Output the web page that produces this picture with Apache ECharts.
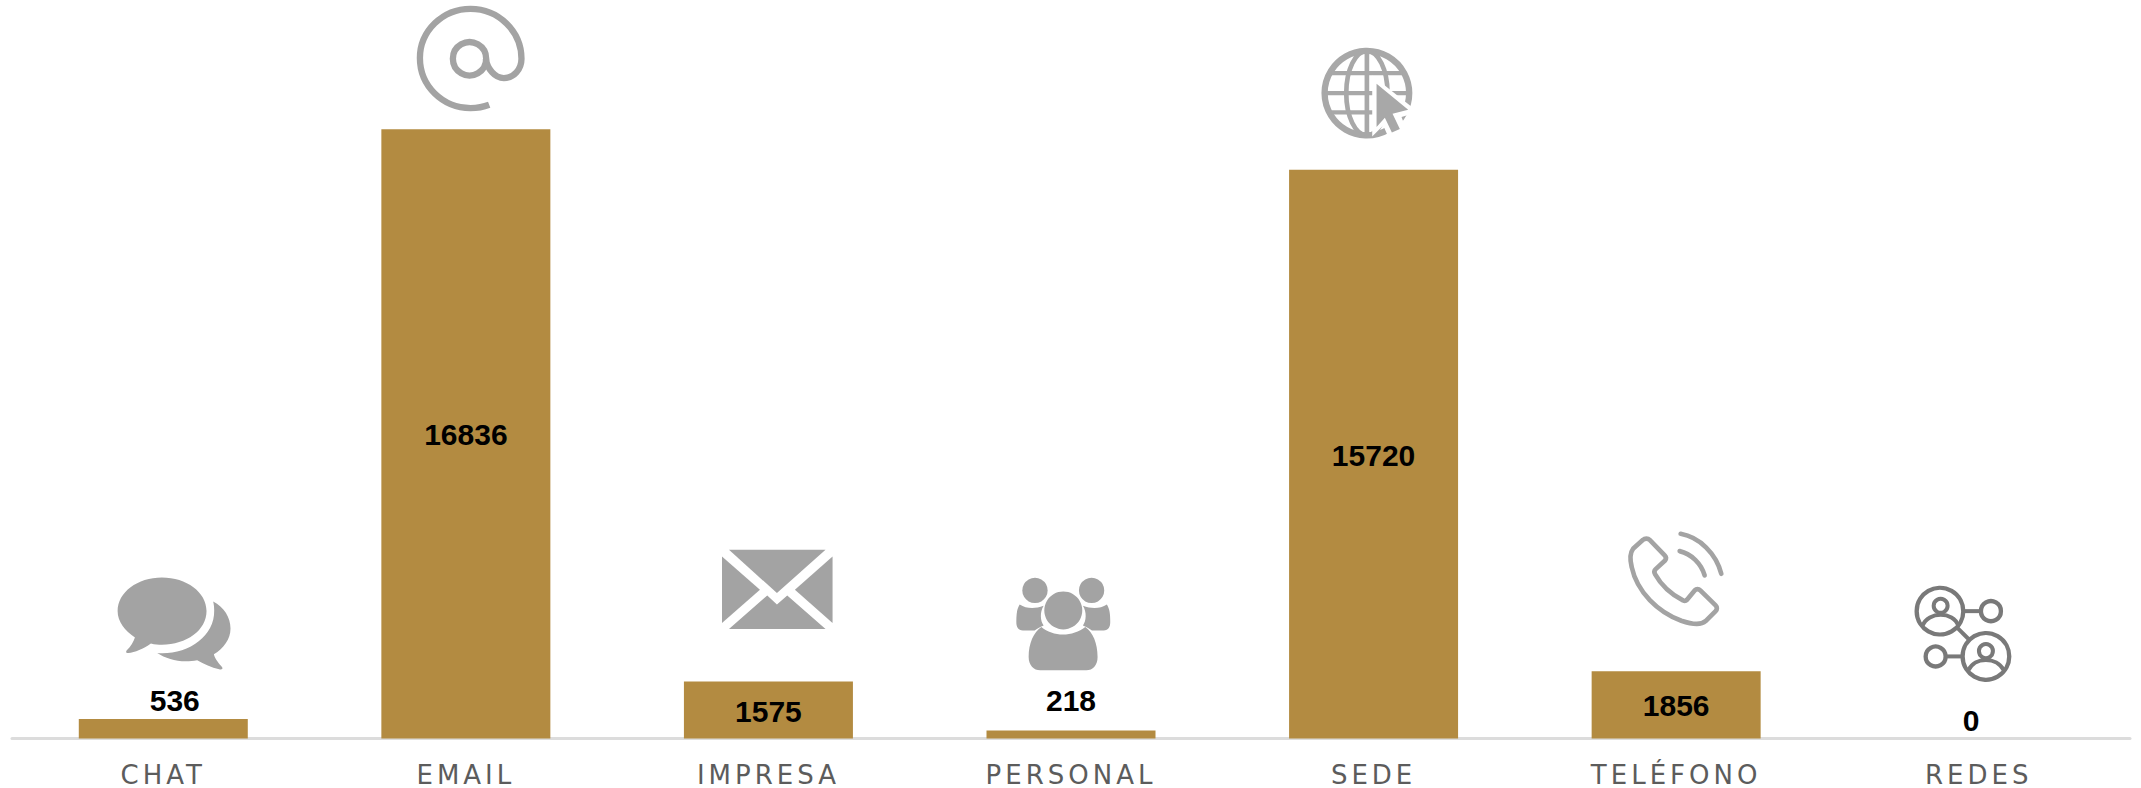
<!DOCTYPE html>
<html lang="es">
<head>
<meta charset="utf-8">
<title>Canales</title>
<style>
  html, body { margin: 0; padding: 0; background: #ffffff; }
  #chart { width: 2141px; height: 788px; }
  /* Tracked-out category names */
  #chart text[fill="#5c5c5c"], #chart text[style*="#5c5c5c"] { letter-spacing: 4px; }
</style>
<script src="https://cdn.jsdelivr.net/npm/echarts@6/dist/echarts.min.js"></script>
</head>
<body>
<div id="chart"></div>
<script>
const categories = ['CHAT', 'EMAIL', 'IMPRESA', 'PERSONAL', 'SEDE', 'TELÉFONO', 'REDES'];
const counts = [536, 16836, 1575, 218, 15720, 1856, 0];

const GOLD = '#b38b41';
const ICON_GREY = '#a3a3a3';
const NET_GREY = '#797979';

// Short bars carry their value above the bar, shifted sideways in places.
const outsideLabels = {
  CHAT: [11.5, 0],
  PERSONAL: [0, -11],
  REDES: [-7.5, 1]
};

const fill = (d, color) => ({ type: 'path', shape: { pathData: d }, style: { fill: color } });
const line = (d, color, w, cap) => ({
  type: 'path',
  shape: { pathData: d },
  style: { fill: 'none', stroke: color, lineWidth: w, lineCap: cap || 'butt', lineJoin: 'round' }
});
const ring = (cx, cy, r, color, w) => ({
  type: 'circle',
  shape: { cx, cy, r },
  style: { fill: 'none', stroke: color, lineWidth: w }
});
const disc = (cx, cy, r, color) => ({ type: 'circle', shape: { cx, cy, r }, style: { fill: color } });
const oval = (cx, cy, rx, ry, color, w) => ({
  type: 'ellipse',
  shape: { cx, cy, rx, ry },
  style: { fill: 'none', stroke: color, lineWidth: w }
});

// Pictograms are authored on a 3x grid; dx/dy place that grid relative to
// the category centre and the baseline.
const icons = [
  { dx: -83.3, dy: -218, parts: [
    fill('M246,171 C320,171 380,215 380,272 C380,330 320,373 246,373 C235,373 225,372 213,369 C190,385 165,396 145,398 C136,398 138,392 142,388 C152,378 160,365 165,351 C135,332 113,304 113,272 C113,215 173,171 246,171 Z', ICON_GREY),
    fill('M400,243 C432,260 452,290 452,324 C452,356 432,383 402,402 C406,418 418,430 427,441 C430,447 424,449 418,447 C395,442 372,432 352,420 C340,422 330,423 318,423 C285,423 255,413 232,398 C320,405 405,350 403,270 C403,260 402,252 400,243 Z', ICON_GREY)
  ] },
  { dx: -85.9, dy: -738, parts: [
    line('M328,313 C310,320 290,323 272,323 C188,323 120,257 120,173 C120,92 188,25 272,25 C356,25 425,92 425,175 C425,207 402,233 372,233 C345,233 322,205 318,175', ICON_GREY, 19),
    ring(269, 175, 50, ICON_GREY, 19)
  ] },
  { dx: -88.4, dy: -208, parts: [
    fill('M147,58 L437,58 L291,188 Z', ICON_GREY),
    fill('M126,78 L240,178 L126,278 Z', ICON_GREY),
    fill('M458,78 L345,178 L458,278 Z', ICON_GREY),
    fill('M147,296 L262,195 L291,222 L322,195 L437,296 Z', ICON_GREY)
  ] },
  { dx: -391, dy: -208, parts: [
    disc(1066, 180, 38, ICON_GREY),
    disc(1236, 180, 38, ICON_GREY),
    disc(1151, 240, 57, ICON_GREY),
    fill('M1085,290 C1120,320 1180,320 1217,290 C1240,305 1254,340 1254,380 C1254,405 1240,420 1220,420 L1082,420 C1062,420 1047,405 1047,380 C1047,340 1062,305 1085,290 Z', ICON_GREY),
    fill('M1020,222 C1040,235 1065,236 1092,226 C1080,245 1082,272 1092,285 C1080,290 1072,295 1065,300 L1030,300 C1015,300 1010,290 1010,275 C1010,250 1012,235 1020,222 Z', ICON_GREY),
    fill('M1282,222 C1262,235 1237,236 1210,226 C1222,245 1220,272 1210,285 C1222,290 1230,295 1237,300 L1272,300 C1287,300 1292,290 1292,275 C1292,250 1290,235 1282,222 Z', ICON_GREY)
  ] },
  { dx: -83.6, dy: -708, parts: [
    ring(231, 188, 127, '#a8a8a8', 19),
    oval(231, 188, 62, 127, '#a8a8a8', 14),
    line('M231,60 L231,316', '#a8a8a8', 14),
    line('M125,128 L337,128', '#a8a8a8', 13),
    line('M103,188 L359,188', '#a8a8a8', 13),
    line('M125,246 L337,246', '#a8a8a8', 13),
    fill('M247,135 L385,245 L335,260 L352,305 L298,326 L280,285 L247,318 Z', '#ffffff'),
    fill('M260,160 L355,238 L308,250 L330,296 L306,306 L285,262 L260,290 Z', '#a8a8a8')
  ] },
  { dx: -76.4, dy: -218, parts: [
    line('M100,85 L130,58 C135,53 145,53 150,58 L195,105 C200,110 200,115 196,120 L168,146 C163,151 163,156 166,161 C185,195 215,222 250,240 C255,242 259,241 262,238 L285,210 C290,205 297,205 302,210 L348,255 C353,260 353,267 348,272 L318,302 C305,314 280,313 245,301 C175,275 112,215 96,140 C90,115 90,98 100,85 Z', ICON_GREY, 14),
    line('M243,40 C300,50 350,100 365,160', ICON_GREY, 14, 'round'),
    line('M240,92 C275,100 305,130 315,165', ICON_GREY, 14, 'round')
  ] },
  { dx: -78.7, dy: -158, parts: [
    ring(120, 92, 70, NET_GREY, 13),
    ring(258, 228, 70, NET_GREY, 13),
    ring(273, 92, 30, NET_GREY, 13),
    ring(107, 228, 30, NET_GREY, 13),
    line('M192,92 L243,92', NET_GREY, 12),
    line('M137,228 L188,228', NET_GREY, 12),
    line('M170,140 L208,178', NET_GREY, 12),
    ring(122, 76, 21, NET_GREY, 12),
    line('M68,135 C85,92 160,92 175,135', NET_GREY, 12),
    ring(258, 212, 21, NET_GREY, 12),
    line('M205,270 C225,228 290,228 312,270', NET_GREY, 12)
  ] }
];

const valueLabel = {
  show: true,
  position: 'inside',
  fontFamily: '"Liberation Sans", Arial, sans-serif',
  fontSize: 30,
  fontWeight: 'bold',
  color: '#000000'
};

const barData = categories.map((name, i) => {
  const offset = outsideLabels[name];
  return {
    value: counts[i],
    label: offset ? { position: 'top', distance: 4, offset } : { position: 'inside', offset: [0, 1] }
  };
});

const chart = echarts.init(document.getElementById('chart'), null, { renderer: 'svg' });
chart.setOption({
  animation: false,
  backgroundColor: '#ffffff',
  grid: { left: 12, right: 11, top: 87.2, bottom: 49.5 },
  xAxis: {
    type: 'category',
    data: categories,
    offset: 1,
    axisTick: { show: false },
    axisLine: { lineStyle: { color: '#dcdcdc', width: 3 } },
    axisLabel: {
      color: '#5c5c5c',
      fontFamily: '"DejaVu Sans", Verdana, sans-serif',
      fontSize: 26,
      margin: 22,
      interval: 0
    }
  },
  yAxis: { type: 'value', min: 0, max: 18000, show: false, splitLine: { show: false } },
  series: [
    {
      type: 'bar',
      data: barData,
      barWidth: 169,
      itemStyle: { color: GOLD },
      label: valueLabel,
      silent: true
    },
    {
      type: 'custom',
      silent: true,
      clip: false,
      data: categories.map((_, i) => [i, 0]),
      encode: { x: 0, y: 1 },
      renderItem(params, api) {
        const idx = api.value(0);
        const pt = api.coord([idx, 0]);
        const icon = icons[idx];
        return {
          type: 'group',
          x: pt[0] + icon.dx,
          y: pt[1] + icon.dy,
          scaleX: 1 / 3,
          scaleY: 1 / 3,
          children: icon.parts
        };
      }
    }
  ]
});
</script>
</body>
</html>
